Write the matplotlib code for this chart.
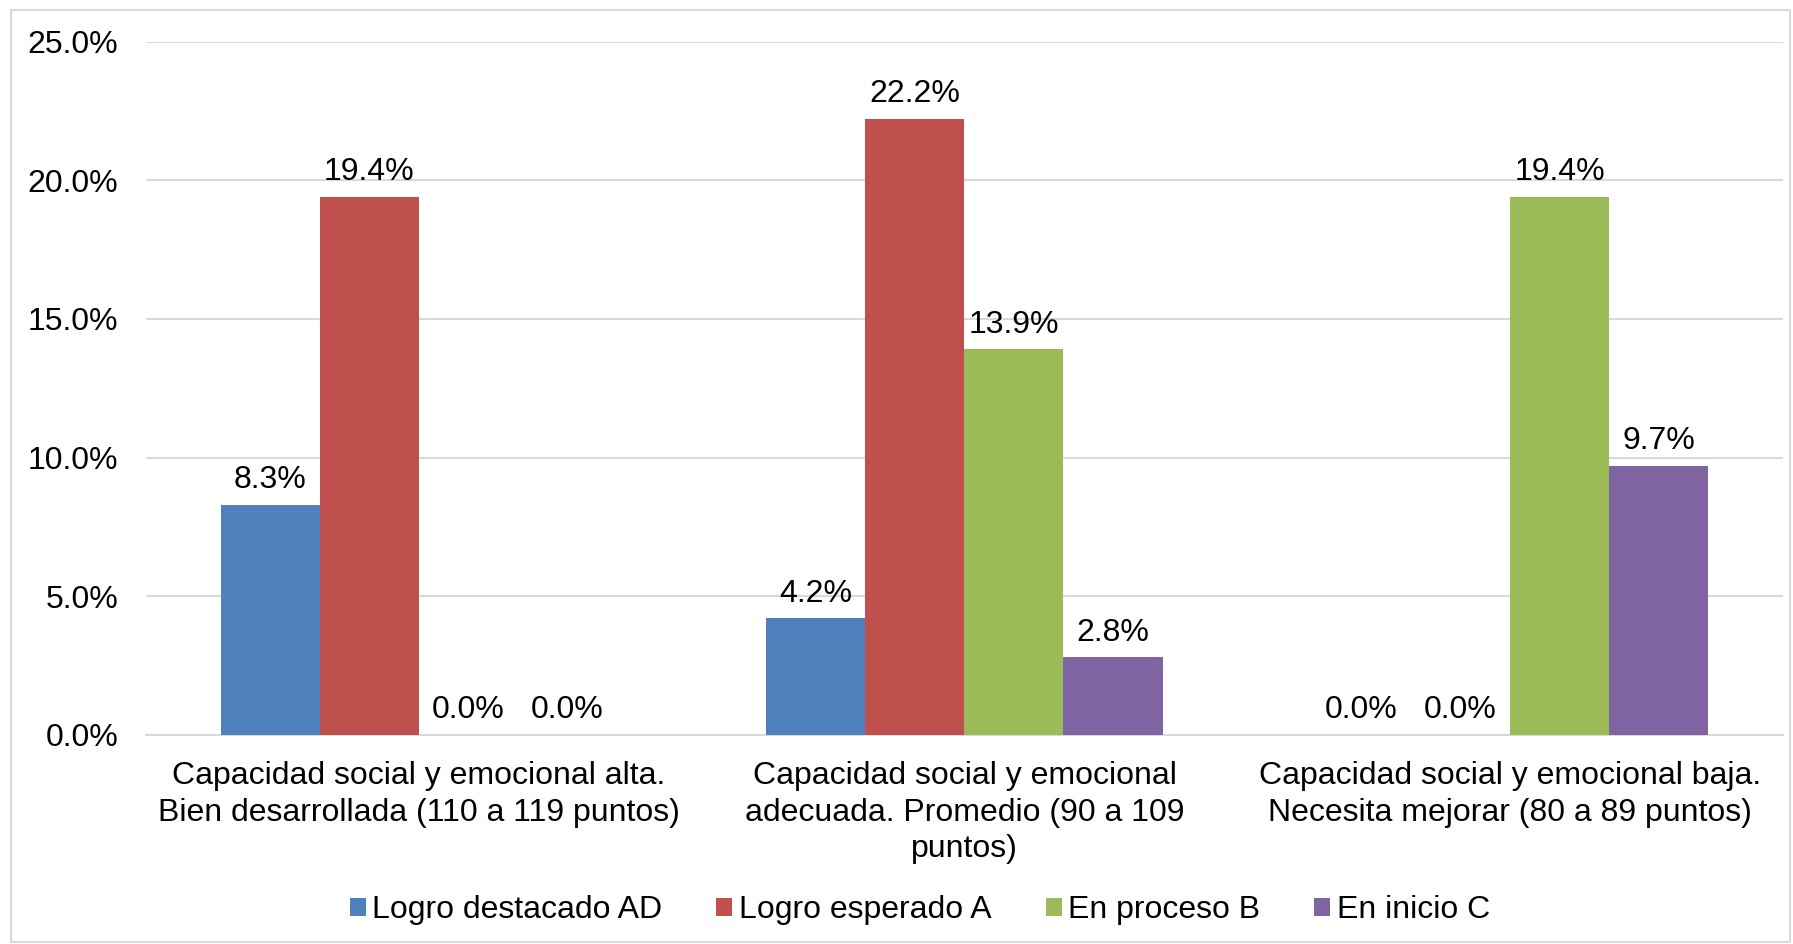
import matplotlib.pyplot as plt
import numpy as np
from matplotlib.patches import Rectangle

plt.rcParams['font.family'] = ['Liberation Sans', 'DejaVu Sans']

# datos
categorias = ['Capacidad social y emocional alta.\nBien desarrollada (110 a 119 puntos)',
              'Capacidad social y emocional\nadecuada. Promedio (90 a 109\npuntos)',
              'Capacidad social y emocional baja.\nNecesita mejorar (80 a 89 puntos)']
series = ['Logro destacado AD', 'Logro esperado A', 'En proceso B', 'En inicio C']
logro_ad = [8.3, 4.2, 0.0]
logro_a = [19.4, 22.2, 0.0]
proceso_b = [0.0, 13.9, 19.4]
inicio_c = [0.0, 2.8, 9.7]
colores = ['#4F81BD', '#C0504D', '#9BBB59', '#8064A2']
yticks = [0, 5, 10, 15, 20, 25]

fs = 23
fig = plt.figure(figsize=(17.93, 9.44), dpi=100)
ax = fig.add_axes([0.0814, 0.2214, 0.913, 0.7346])

# borde exterior
fig.patches.append(Rectangle((11 / 1793, 2 / 944), 1779 / 1793, 932 / 944, transform=fig.transFigure,
                             fill=False, edgecolor='#D9D9D9', linewidth=1.5))

x = np.arange(len(categorias))
ancho = 0.1815
valores = [logro_ad, logro_a, proceso_b, inicio_c]
for i, (nombre, vals) in enumerate(zip(series, valores)):
    pos = x + (i - 1.5) * ancho
    bars = ax.bar(pos, vals, width=ancho, color=colores[i], label=nombre, zorder=3)
    for b, v in zip(bars, vals):
        ax.annotate(f'{v:.1f}%', (b.get_x() + b.get_width() / 2, v), xytext=(0, 7),
                    textcoords='offset points', ha='center', va='bottom', fontsize=fs)

ax.set_xlim(-0.5, 2.5)
ax.set_ylim(0, 25)
ax.set_yticks(yticks)
ax.set_yticklabels([f'{t:.1f}%' for t in yticks], fontsize=fs)
ax.set_xticks(x)
ax.set_xticklabels(categorias, fontsize=fs, linespacing=1.28)
ax.tick_params(axis='y', length=0, pad=20)
ax.tick_params(axis='x', length=0, pad=19)
ax.grid(axis='y', color='#D9D9D9', linewidth=1.5, zorder=0)
for s in ['top', 'right', 'left']:
    ax.spines[s].set_visible(False)
ax.spines['bottom'].set_color('#D9D9D9')
ax.spines['bottom'].set_linewidth(1.5)

fig.legend(loc='center', bbox_to_anchor=(0.513, 0.036), ncol=4, frameon=False, fontsize=fs,
           handlelength=0.5, handleheight=0.5, handletextpad=0.2, columnspacing=1.7)

fig.savefig('out.png', dpi=100)
